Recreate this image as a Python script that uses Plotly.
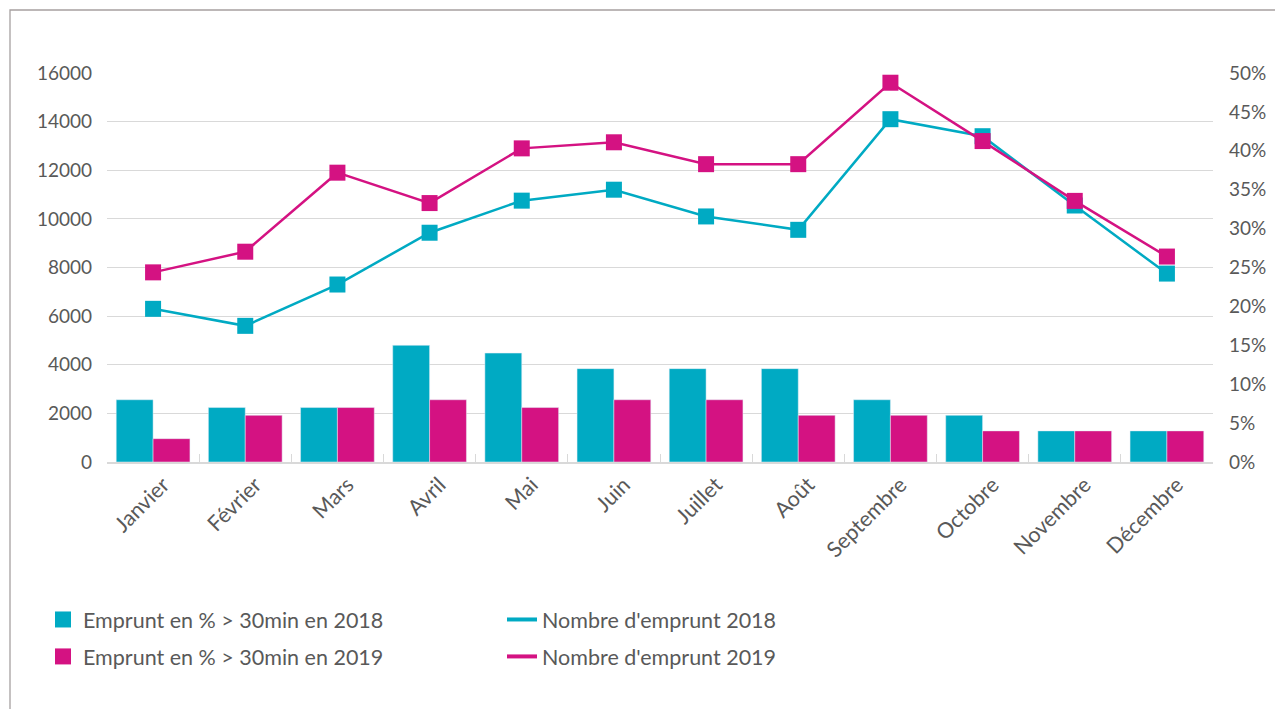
import plotly.graph_objects as go

months = ["Janvier", "Février", "Mars", "Avril", "Mai", "Juin", "Juillet",
          "Août", "Septembre", "Octobre", "Novembre", "Décembre"]

pct_2018 = [0.08, 0.07, 0.07, 0.15, 0.14, 0.12, 0.12, 0.12, 0.08, 0.06, 0.04, 0.04]
pct_2019 = [0.03, 0.06, 0.07, 0.08, 0.07, 0.08, 0.08, 0.06, 0.06, 0.04, 0.04, 0.04]

nb_2018 = [6300, 5600, 7300, 9430, 10750, 11200, 10100, 9550, 14100, 13400, 10550, 7750]
nb_2019 = [7800, 8650, 11900, 10650, 12900, 13150, 12250, 12250, 15600, 13200, 10740, 8450]

left_ticks = [0, 2000, 4000, 6000, 8000, 10000, 12000, 14000, 16000]
right_ticks = [0, 0.05, 0.10, 0.15, 0.20, 0.25, 0.30, 0.35, 0.40, 0.45, 0.50]

names_bar = ["Emprunt en % > 30min en 2018", "Emprunt en % > 30min en 2019"]
names_line = ["Nombre d'emprunt 2018", "Nombre d'emprunt 2019"]

TEAL = "#00AAC3"
MAGENTA = "#D41282"
TXT = "#595959"
FONT = "Lato"

# page has an 8px body margin: figure coords = page coords - 8
W, H = 1275, 701
L, R, T, B = 99, 70, 65, 247
PW, PH = W - L - R, H - T - B


def px_x(fx):
    return (fx - L) / PW


def px_y(fy):
    return (H - B - fy) / PH


fig = go.Figure()
fig.add_trace(go.Bar(x=months, y=pct_2018, name=names_bar[0],
                     marker_color=TEAL, yaxis="y2", showlegend=False))
fig.add_trace(go.Bar(x=months, y=pct_2019, name=names_bar[1],
                     marker_color=MAGENTA, yaxis="y2", showlegend=False))
fig.add_trace(go.Scatter(x=months, y=nb_2018, name=names_line[0],
                         mode="lines+markers", line=dict(color=TEAL, width=2.5),
                         marker=dict(symbol="square", size=16, color=TEAL),
                         showlegend=False))
fig.add_trace(go.Scatter(x=months, y=nb_2019, name=names_line[1],
                         mode="lines+markers", line=dict(color=MAGENTA, width=2.5),
                         marker=dict(symbol="square", size=16, color=MAGENTA),
                         showlegend=False))

# legend entries
for nm, col, grp in [(names_bar[0], TEAL, "a"), (names_bar[1], MAGENTA, "b")]:
    fig.add_trace(go.Scatter(x=[None], y=[None], name=nm, mode="markers",
                             marker=dict(symbol="square", size=20, color=col),
                             legend="legend", legendgroup=grp, hoverinfo="skip"))
for nm, col, grp in [(names_line[0], TEAL, "c"), (names_line[1], MAGENTA, "d")]:
    fig.add_trace(go.Scatter(x=[None], y=[None], name=nm, mode="lines",
                             line=dict(color=col, width=4),
                             legend="legend2", legendgroup=grp, hoverinfo="skip"))

leg_common = dict(orientation="v", xref="container", yref="container",
                  yanchor="top", xanchor="left", y=1 - (599 - 8) / H,
                  font=dict(family=FONT, size=21.5, color=TXT),
                  traceorder="grouped", tracegroupgap=6,
                  bgcolor="rgba(0,0,0,0)")

fig.update_layout(
    width=W, height=H,
    margin=dict(l=L, r=R, t=T, b=B, autoexpand=False),
    paper_bgcolor="white", plot_bgcolor="white",
    font=dict(family=FONT, size=19, color=TXT),
    barmode="group", bargap=0.2, bargroupgap=0,
    showlegend=True,
    legend=dict(leg_common, x=(43 - 8) / W),
    legend2=dict(leg_common, x=(502 - 8) / W),
    xaxis=dict(type="category", range=[-0.5, len(months) - 0.5],
               showgrid=False, showline=True, automargin=False,
               linecolor="#D9D9D9", linewidth=1.5, ticks="inside",
               tickson="boundaries", ticklen=8, tickcolor="#D9D9D9",
               tickangle=-45, ticklabelshift=10,
               tickfont=dict(family=FONT, size=21.5, color=TXT)),
    yaxis=dict(range=[0, 16000], tickvals=left_ticks, automargin=False,
               ticktext=[str(v) for v in left_ticks],
               showgrid=True, gridcolor="#D9D9D9", gridwidth=1.3,
               zeroline=False, showline=False, ticklabelstandoff=14,
               tickfont=dict(family=FONT, size=19, color=TXT)),
    yaxis2=dict(range=[0, 0.5], tickvals=right_ticks, tickformat=".0%",
                overlaying="y", side="right", showgrid=False, zeroline=False,
                showline=False, ticklabelstandoff=15, automargin=False,
                tickfont=dict(family=FONT, size=19, color=TXT)),
    shapes=[dict(type="rect", xref="paper", yref="paper",
                 x0=px_x(2), x1=px_x(W + 20),
                 y0=px_y(H + 20), y1=px_y(2),
                 line=dict(color="#A6A0A0", width=1.3), layer="below")],
)

fig.write_html("out.html")
